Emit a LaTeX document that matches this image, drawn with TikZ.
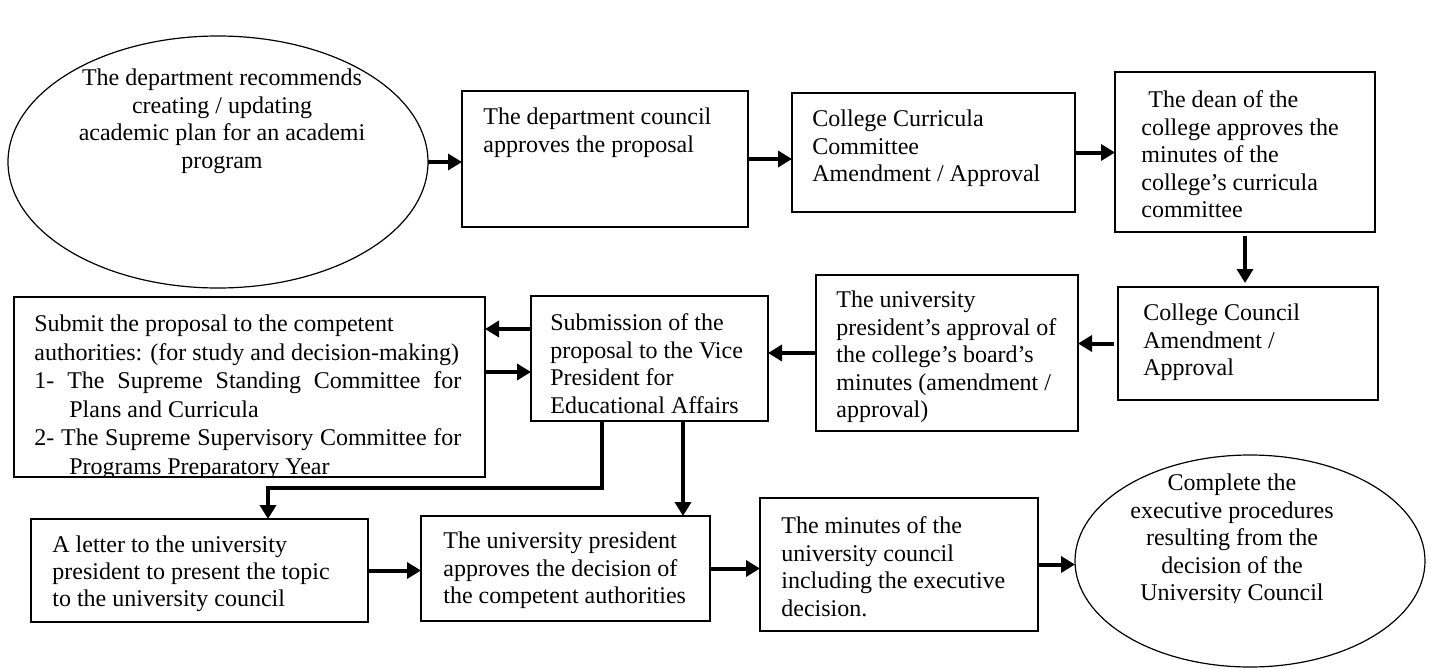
\documentclass[tikz,border=0pt]{standalone}
\usepackage{fontspec}
\setmainfont{Liberation Serif}
\usetikzlibrary{arrows.meta,shapes.geometric}
\begin{document}
\begin{tikzpicture}[x=0.5pt,y=-0.5pt,
  box/.style n args={2}{draw, line width=0.7pt, rectangle, inner sep=0pt, outer sep=0pt, minimum width=#1*0.5pt, minimum height=#2*0.5pt},
  oval/.style n args={2}{draw, line width=0.6pt, ellipse, inner sep=0pt, outer sep=0pt, minimum width=#1*0.5pt, minimum height=#2*0.5pt},
  txt/.style={anchor=north west, inner sep=0pt, align=left, font=\fontsize{12}{13.75}\selectfont},
  ctxt/.style={anchor=north, inner sep=0pt, align=center, font=\fontsize{12}{13.75}\selectfont},
  arr/.style={line width=2pt, -{Triangle[length=7pt,width=8pt]}},
]
\useasboundingbox (0,0) rectangle (1435,669);

% shapes
\node[oval={420}{252}] (E1) at (218,162) {};
\node[box={286}{136}] (B2) at (605,159) {};
\node[box={283}{119}] (B3) at (933.5,152.5) {};
\node[box={260}{160}] (B4) at (1245,152) {};
\node[box={260}{113}] (B5) at (1248,343.5) {};
\node[box={262}{156}] (B6) at (947,353) {};
\node[box={237}{125}] (B7) at (649.5,358.5) {};
\node[box={471}{180}] (B8) at (249.5,387) {};
\node[box={337}{103}] (B9) at (199.5,570.5) {};
\node[box={289}{105}] (B10) at (565.5,568.5) {};
\node[box={278}{133}] (B11) at (899,564.5) {};
\node[oval={350}{212}] (E2) at (1250,561) {};

% texts
\node[ctxt] (T1) at (222,68.5) {The department recommends\\creating / updating\\academic plan for an academi\\program};
\node[txt] (T2) at (483,107.5) {The department council\\approves the proposal};
\node[txt] (T3) at (812,109.5) {College Curricula\\Committee\\Amendment / Approval};
\node[txt] (T4) at (1141,90.5) {\hspace*{3.5pt}The dean of the\\college approves the\\minutes of the\\college’s curricula\\committee};
\node[txt] (T5) at (1143,303.5) {College Council\\Amendment /\\Approval};
\node[txt] (T6) at (836,290.5) {The university\\president’s approval of\\the college’s board’s\\minutes (amendment /\\approval)};
\node[txt] (T7) at (550,313.5) {Submission of the\\proposal to the Vice\\President for\\Educational Affairs};
\begin{scope}
\clip (B8.north west) rectangle ([yshift=1pt]B8.south east);
\node[txt, font=\fontsize{12}{14.25}\selectfont] (T8) at (34,314.5) {Submit the proposal to the competent\\
authorities: (for study and decision-making)\\
\makebox[213.5pt][s]{1- The Supreme Standing Committee for}\\
\hspace*{17.5pt}Plans and Curricula\\
\makebox[213.5pt][s]{2- The Supreme Supervisory Committee for}\\
\hspace*{17.5pt}Programs Preparatory Year};
\end{scope}
\node[txt, font=\fontsize{12}{13.5}\selectfont] (T9) at (52,535.5) {A letter to the university\\president to present the topic\\to the university council};
\node[txt] (T10) at (443,531.5) {The university president\\approves the decision of\\the competent authorities};
\node[txt] (T11) at (781,516.5) {The minutes of the\\university council\\including the executive\\decision.};
\begin{scope}
\clip (1060,440) rectangle (1440,602);
\node[ctxt] (T12) at (1232,473.5) {Complete the\\executive procedures\\resulting from the\\decision of the\\University Council};
\end{scope}

% connectors
\draw[arr] (E1.east) -- (E1.east -| B2.west);
\draw[arr] (B2.east) -- (B2.east -| B3.west);
\draw[arr] (B3.east) -- (B3.east -| B4.west);
\draw[arr, shorten <=2pt, shorten >=2pt] (B4.south) -- (B4.south |- B5.north);
\draw[arr, shorten <=2pt] (B5.west) -- (B5.west -| B6.east);
\draw[arr] (B6.west) -- (B6.west -| B7.east);
\coordinate (p1) at ([yshift=14.75pt]B7.west);
\draw[arr] (p1) -- (p1 -| B8.east);
\coordinate (p2) at ([yshift=7.5pt]B8.east);
\draw[arr] (p2) -- (p2 -| B7.west);
\coordinate (p3) at ([xshift=-23.75pt]B7.south);
\coordinate (p4) at ([xshift=34.25pt]B9.north);
\draw[arr] (p3) -- ++(0,67) -| (p4);
\coordinate (p5) at ([xshift=16.75pt]B7.south);
\draw[arr] (p5) -- (p5 |- B10.north);
\draw[arr] (B9.east) -- (B9.east -| B10.west);
\draw[arr] (B10.east) -- (B10.east -| B11.west);
\draw[arr] (B11.east) -- (B11.east -| E2.west);
\end{tikzpicture}
\end{document}
